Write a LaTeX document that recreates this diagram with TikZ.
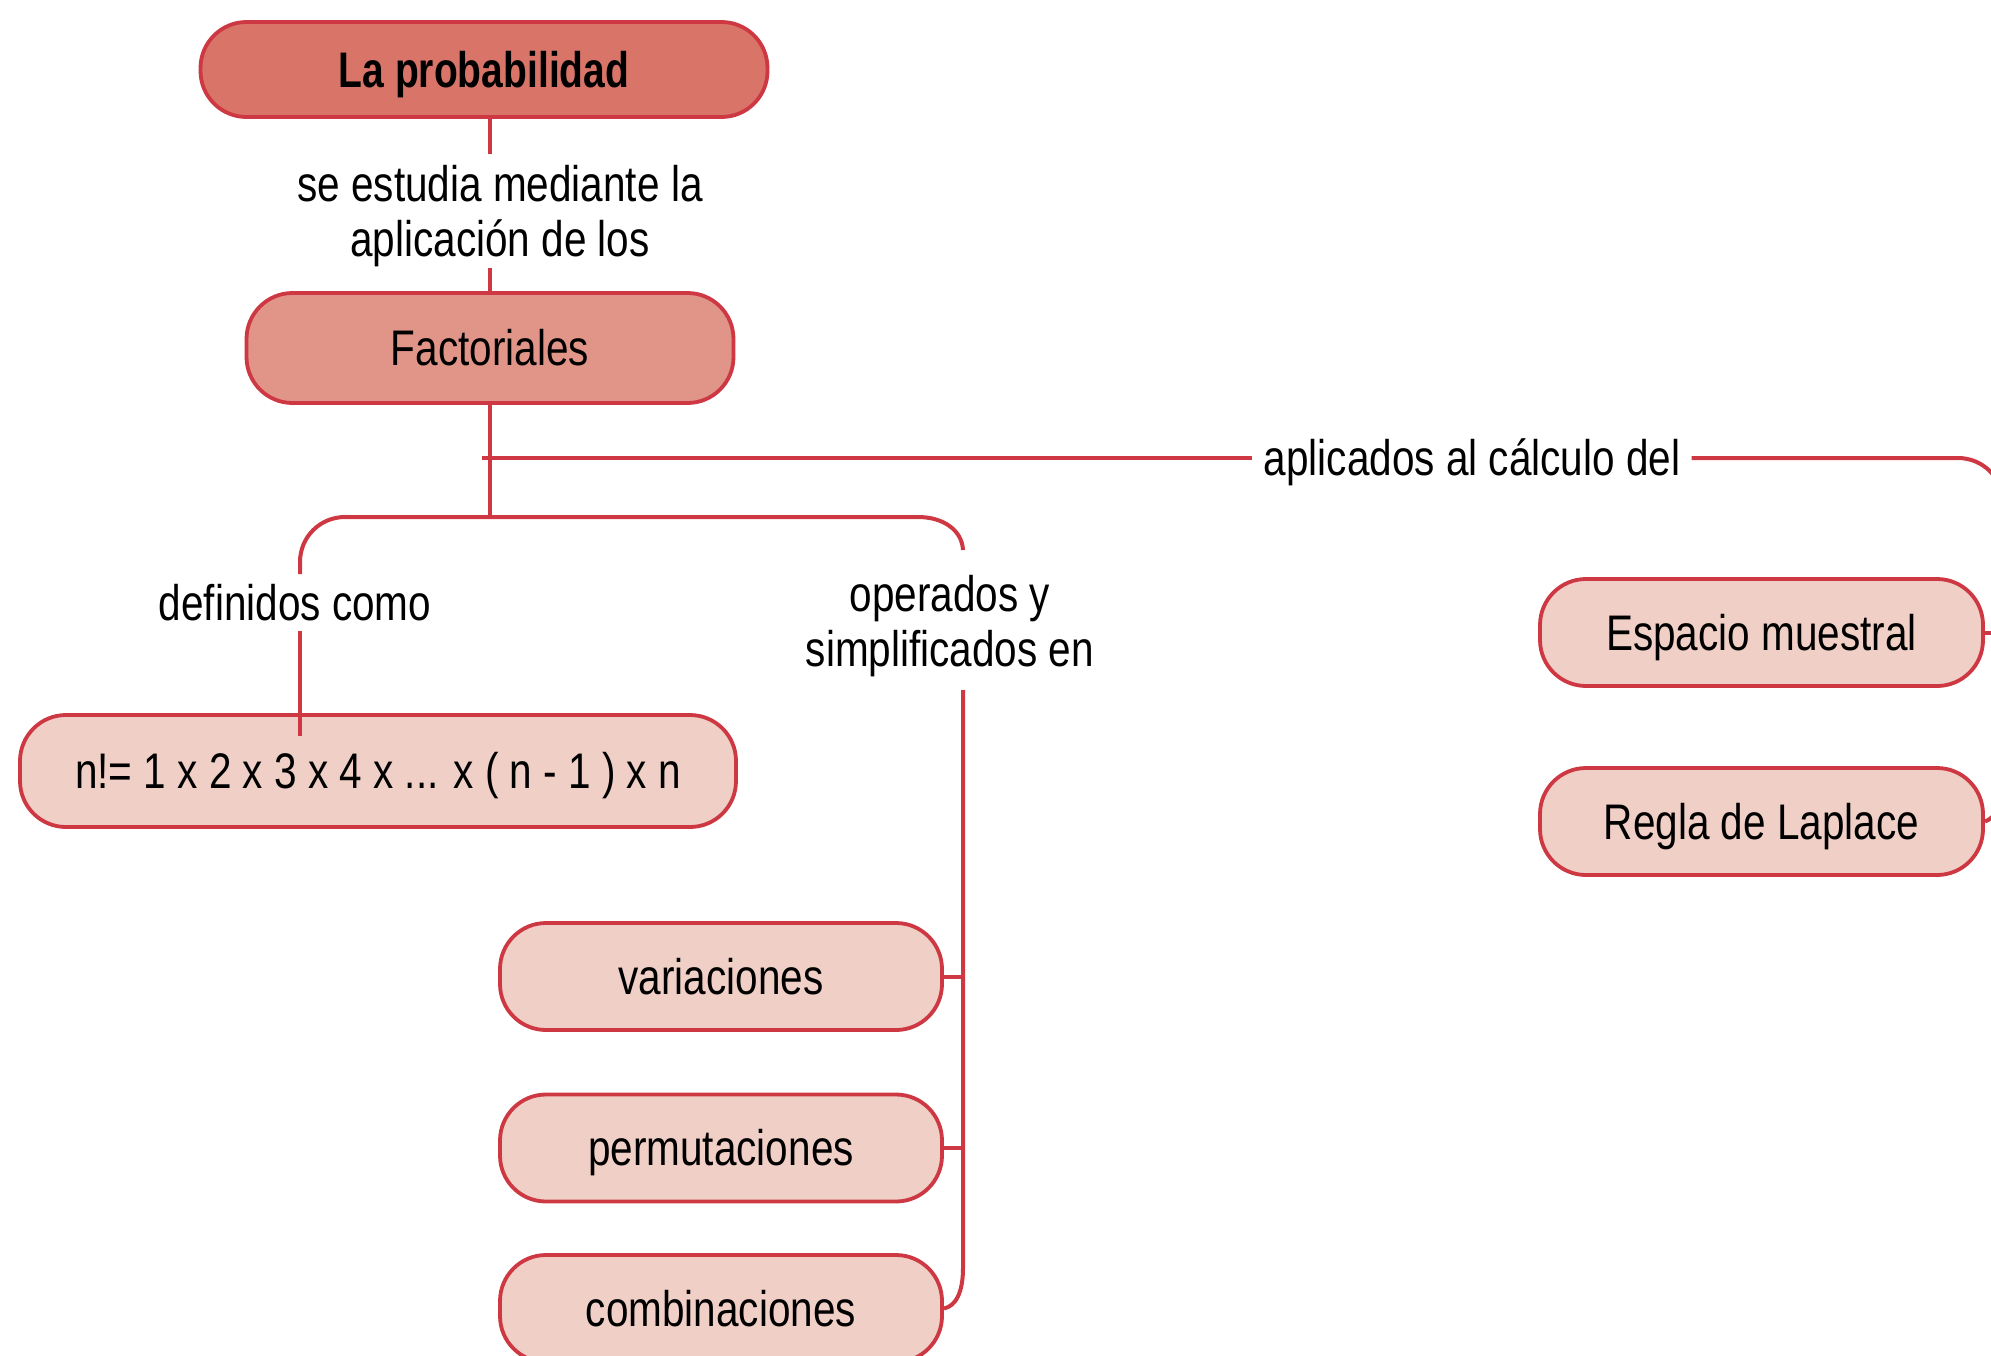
\documentclass[tikz,border=0pt]{standalone}
\usepackage{fontspec}
\setmainfont{Liberation Sans}[FakeStretch=0.81]
\newfontfamily\titlefont{Liberation Sans}[FakeStretch=0.78]
\definecolor{cred}{RGB}{205,56,66}
\definecolor{ctop}{RGB}{217,116,104}
\definecolor{cmid}{RGB}{225,148,136}
\definecolor{clight}{RGB}{240,207,198}
\tikzset{
  box/.style={draw=cred, line width=1.9pt, rounded corners=23pt, inner sep=0pt,
    text height=17.9pt, text depth=0pt, font=\fontsize{25}{27}\selectfont},
  lightbox/.style={box, fill=clight, minimum height=53.5pt},
  conn/.style={draw=cred, line width=2pt},
  lbl/.style={inner xsep=5.5pt, inner ysep=5pt, align=center, font=\fontsize{25}{27.5}\selectfont}
}
\begin{document}
\begin{tikzpicture}[x=0.5pt,y=-0.5pt]
\useasboundingbox (0,0) rectangle (1991,1355);
\clip (0,0) rectangle (1991,1355);

% nodes
\node[box, fill=ctop, minimum width=283.5pt, minimum height=47.5pt,
  font=\fontsize{25}{27}\selectfont\titlefont\bfseries] (lp) at (484,69.5) {La probabilidad};
\node[box, fill=cmid, minimum width=243.5pt, minimum height=55pt] (fact) at (490,348) {Factoriales};
\node[lightbox, minimum width=358pt, minimum height=56pt] (nf) at (378,771) {n!= 1 x 2 x 3 x 4 x ... x ( n - 1 ) x n};
\node[lightbox, minimum width=221pt] (var) at (721,976.5) {variaciones};
\node[lightbox, minimum width=221pt] (perm) at (721,1148) {permutaciones};
\node[lightbox, minimum width=221pt] (comb) at (721,1308.5) {combinaciones};
\node[lightbox, minimum width=221.5pt] (esp) at (1761.5,632.5) {Espacio muestral};
\node[lightbox, minimum width=221.5pt] (regla) at (1761.5,821.5) {Regla de Laplace};

% labels
\node[lbl] (l1) at (500,216) {se estudia mediante la\\aplicación de los};
\node[lbl, text height=17.9pt, text depth=0pt] (dc) at (295,603) {definidos como};
\node[lbl] (op) at (950,626) {operados y\\simplificados en};
\node[lbl, text height=17.9pt, text depth=0pt] (apl) at (1472,458) {aplicados al cálculo del};

% coordinates
\coordinate (a1) at (490,154);
\coordinate (a2) at (490,268);
\coordinate (b) at (490,517);
\coordinate (h0) at (482,458);
\coordinate (bl) at (300,574);
\coordinate (br) at (963,550);
\coordinate (bd) at (300,736);
\coordinate (vt) at (963,690);

% connectors
\draw[conn] (lp.south -| a1) -- (a1);
\draw[conn] (a2) -- (fact.north -| a2);
\draw[conn] (fact.south) -- (b);
\draw[conn] (h0) -- (apl.west);
\draw[conn] (apl.east) -- (1958,458) .. controls (1983,458) and (2003,478) .. (2003,503)
  -- (2003,785) .. controls (2003,805) and (1995,818) .. (regla.east);
\draw[conn] (esp.east) -- ++(20,0);
\draw[conn] (bl) -- (300,562) .. controls (300,537) and (320,517) .. (345,517)
  -- (918,517) .. controls (943,517) and (962,530) .. (br);
\draw[conn] (dc.south -| bl) -- (bd);
\draw[conn] (vt) -- (963,1268) .. controls (963,1292) and (956,1306) .. (comb.east);
\draw[conn] (var.east) -- (var.east -| vt);
\draw[conn] (perm.east) -- (perm.east -| vt);
\end{tikzpicture}
\end{document}
